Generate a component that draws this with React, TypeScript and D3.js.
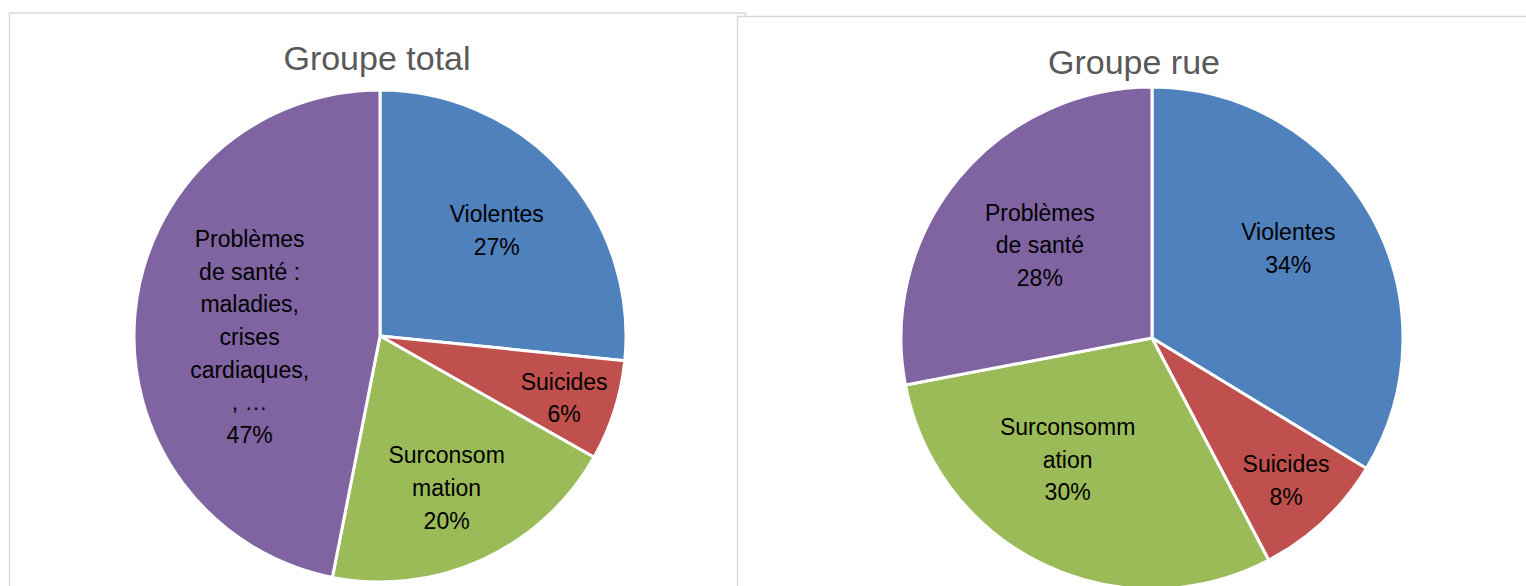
import React from "react";
import * as d3 from "d3";

const categories = ["Violentes", "Suicides", "Surconsommation", "Problèmes de santé"];
const totalValues = [26.6, 6.6, 19.9, 46.9];
const rueValues = [33.7, 8.6, 29.7, 28.0];
const totalLabels = [["Violentes", "27%"], ["Suicides", "6%"], ["Surconsom", "mation", "20%"], ["Problèmes", "de santé :", "maladies,", "crises", "cardiaques,", ", …", "47%"]];
const rueLabels = [["Violentes", "34%"], ["Suicides", "8%"], ["Surconsomm", "ation", "30%"], ["Problèmes", "de santé", "28%"]];
const colors = ["#4F81BD", "#C0504D", "#9BBB59", "#8064A2"];

const FONT = "'Liberation Sans', Arial, sans-serif";

type PanelProps = {
  title: string;
  values: number[];
  labels: string[][];
  x: number; y: number; w: number; h: number;
  cx: number; cy: number; r: number; titleX: number; titleY: number;
  labelPos: [number, number][]; // [radius fraction, angle offset deg]
};

function Panel(p: PanelProps) {
  const pie = d3.pie<number>().sort(null).value((d) => d);
  const arcs = pie(p.values);
  const arc = d3.arc<d3.PieArcDatum<number>>().innerRadius(0).outerRadius(p.r);
  const lh = 32.7;
  return (
    <g>
      <rect x={p.x} y={p.y} width={p.w} height={p.h} fill="#fff" stroke="#d9d9d9" strokeWidth={1.5} />
      <text x={p.titleX} y={p.titleY} textAnchor="middle" fontFamily={FONT} fontSize={34} fill="#595959">{p.title}</text>
      <g transform={`translate(${p.cx},${p.cy})`}>
        {arcs.map((a, i) => (
          <path key={categories[i]} d={arc(a) || ""} fill={colors[i]} stroke="#fff" strokeWidth={3} strokeLinejoin="round" />
        ))}
        {arcs.map((a, i) => {
          const mid = (a.startAngle + a.endAngle) / 2 + (p.labelPos[i][1] * Math.PI) / 180;
          const rr = p.r * p.labelPos[i][0];
          const lx = Math.sin(mid) * rr;
          const ly = -Math.cos(mid) * rr;
          const lines = p.labels[i];
          const y0 = ly - ((lines.length - 1) * lh) / 2;
          return (
            <text key={"l" + i} textAnchor="middle" fontFamily={FONT} fontSize={23} fill="#000" dominantBaseline="central">
              {lines.map((t, j) => (
                <tspan key={j} x={lx} y={y0 + j * lh}>{t}</tspan>
              ))}
            </text>
          );
        })}
      </g>
    </g>
  );
}

export default function App() {
  return (
    <svg width={1526} height={586} style={{ position: "absolute", left: 0, top: 0, background: "#fff" }}>
      <Panel title="Groupe total" values={totalValues} labels={totalLabels}
        x={9.5} y={13} w={736} h={600} cx={380} cy={336} r={246} titleX={377} titleY={70}
        labelPos={[[0.64, 0], [0.79, 1], [0.675, 1], [0.53, -6]]} />
      <Panel title="Groupe rue" values={rueValues} labels={rueLabels}
        x={737.5} y={16.5} w={800} h={600} cx={1152} cy={338} r={251} titleX={1134} titleY={74}
        labelPos={[[0.65, -4], [0.78, 0], [0.59, 9], [0.58, 0]]} />
    </svg>
  );
}
